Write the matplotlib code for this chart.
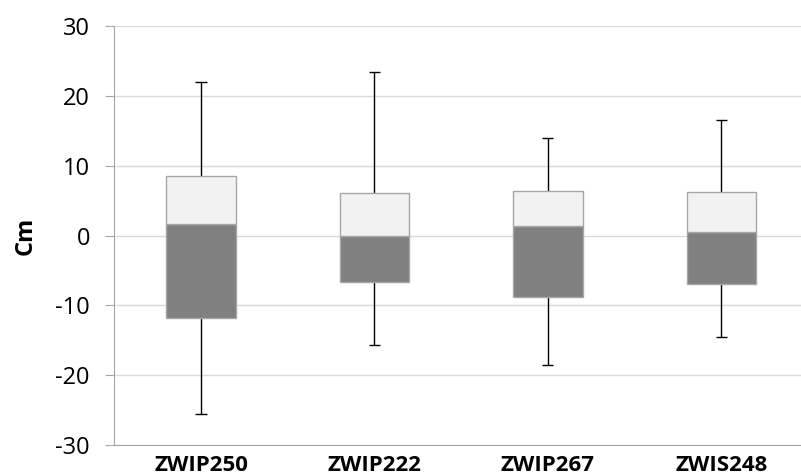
import numpy as np
import matplotlib.pyplot as plt

plt.rcParams['font.family'] = ['Open Sans', 'DejaVu Sans']
plt.rcParams['axes.unicode_minus'] = False

# box plot statistics per site (cm)
sites = ['ZWIP250', 'ZWIP222', 'ZWIP267', 'ZWIS248']
v_min = [-25.5, -15.7, -18.6, -14.6]
q1 = [-11.8, -6.6, -8.8, -7.0]
median = [1.7, 0.0, 1.3, 0.5]
q3 = [8.5, 6.1, 6.4, 6.2]
v_max = [22.0, 23.4, 14.0, 16.5]

x = np.arange(len(sites))
q1 = np.array(q1)
median = np.array(median)
q3 = np.array(q3)

fig = plt.figure(figsize=(8.01, 4.76), dpi=100)
ax = fig.add_axes([0.1427, 0.0651, 0.866, 0.880])

ax.set_axisbelow(True)
ax.yaxis.grid(True, color='#d9d9d9', linewidth=1)

w = 0.40
ax.bar(x, median - q1, bottom=q1, width=w, color='#808080', edgecolor='#a6a6a6', linewidth=1, zorder=3)
ax.bar(x, q3 - median, bottom=median, width=w, color='#f2f2f2', edgecolor='#a6a6a6', linewidth=1, zorder=3)

# whiskers with small caps
cap = 0.032
ax.vlines(x, q3, v_max, color='black', linewidth=1, zorder=2)
ax.vlines(x, v_min, q1, color='black', linewidth=1, zorder=2)
ax.hlines(v_max, x - cap, x + cap, color='black', linewidth=1, zorder=2)
ax.hlines(v_min, x - cap, x + cap, color='black', linewidth=1, zorder=2)

ax.set_xlim(-0.5, 3.5)
ax.set_ylim(-30, 30)
ax.set_yticks(np.arange(-30, 31, 10))
ax.set_xticks(x)
ax.set_xticklabels(sites, fontsize=16, fontweight='bold')
ax.tick_params(axis='y', labelsize=17, length=6.5, color='#a6a6a6', pad=11)
ax.tick_params(axis='x', length=0, pad=7)

for s in ['top', 'right']:
    ax.spines[s].set_visible(False)
ax.spines['left'].set_color('#a6a6a6')
ax.spines['bottom'].set_color('#a6a6a6')

ax.set_ylabel('Cm', fontsize=17, fontweight='bold', labelpad=13)

fig.savefig('out.png', dpi=100)
